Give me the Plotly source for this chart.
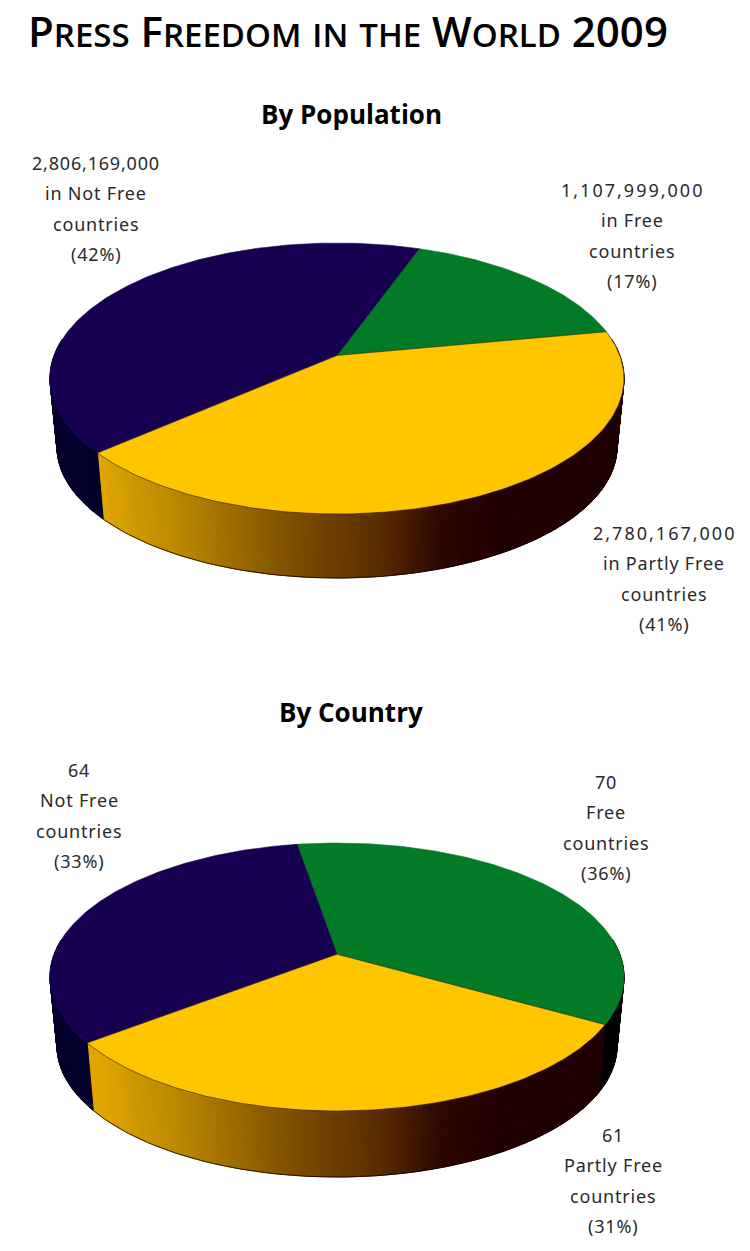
import numpy as np
import plotly.graph_objects as go

# ---- data ----
categories = ["Free", "Partly Free", "Not Free"]
population_values = [1107999000, 2780167000, 2806169000]
population_shares = [17, 41, 42]
country_values = [70, 61, 64]
country_shares = [36, 31, 33]
panel_titles = ["By Population", "By Country"]

# ---- style ----
TOP_COLORS = ["#037A25", "#FFC600", "#16004F"]
FONT_BODY = "Noto Sans"
TEXT_COLOR = "#2a2a2a"
W, H = 750, 1251


def hex_rgb(h):
    return np.array([int(h[i:i + 2], 16) for i in (1, 3, 5)], float)


def gradient(stops, x):
    xs = [s[0] for s in stops]
    cols = np.array([hex_rgb(s[1]) for s in stops])
    rgb = [np.interp(x, xs, cols[:, i]) for i in range(3)]
    return "rgb(%d,%d,%d)" % tuple(rgb)


WALL_STOPS = [
    [(500, "#000000"), (630, "#000000")],
    [(97, "#E0A600"), (180, "#B98600"), (297, "#7A4C00"), (380, "#5A2C00"),
     (440, "#2E0800"), (500, "#220000"), (625, "#1F0000")],
    [(40, "#05002E"), (120, "#00002A")],
]


def project(theta, k, cx, cy, rx, ry):
    """Perspective view of a unit circle: compass angle -> picture position."""
    x = np.sin(theta)
    y = np.cos(theta)
    d = 1 + k * y
    u = x * np.sqrt(1 - k * k) / d
    v = (y + k) / d
    return cx + rx * u, cy - ry * v


def add_pie(fig, values, start_deg, top, bottom):
    values = np.array(values, float)
    fr = values / values.sum()
    edges = np.radians(start_deg) + 2 * np.pi * np.concatenate([[0], np.cumsum(fr)])
    # side wall, drawn first as thin strips so the shading can follow x
    for i in range(3):
        a0, a1 = edges[i], edges[i + 1]
        n = max(2, int(np.degrees(a1 - a0) / 0.7))
        th = np.linspace(a0, a1, n + 1)
        for j in range(n):
            mid = (th[j] + th[j + 1]) / 2
            if np.cos(mid) > 0.12:
                continue
            tt = np.linspace(th[j], th[j + 1], 3)
            tx, ty = project(tt, *top)
            bx, by = project(tt, *bottom)
            xs = np.concatenate([tx, bx[::-1], tx[:1]])
            ys = np.concatenate([ty, by[::-1], ty[:1]])
            c = gradient(WALL_STOPS[i], float(np.mean(tx)))
            fig.add_trace(go.Scatter(x=xs, y=ys, mode="lines", fill="toself",
                                     fillcolor=c, line=dict(color=c, width=1),
                                     hoverinfo="skip", showlegend=False))
    # bottom rim hairline
    th = np.linspace(np.pi / 2 - 0.2, 3 * np.pi / 2 + 0.2, 200)
    bx, by = project(th, *bottom)
    fig.add_trace(go.Scatter(x=bx, y=by, mode="lines",
                             line=dict(color="#100000", width=0.8),
                             hoverinfo="skip", showlegend=False))
    # top slices: yellow is the one with the dark hairline round it
    ax, ay = top[1], top[2] - top[4] * top[0]
    for i in [0, 2, 1]:
        tt = np.linspace(edges[i], edges[i + 1], 160)
        rx_, ry_ = project(tt, *top)
        edge = "#2A1A00" if i == 1 else TOP_COLORS[i]
        fig.add_trace(go.Scatter(
            x=np.concatenate([[ax], rx_, [ax]]), y=np.concatenate([[ay], ry_, [ay]]),
            mode="lines", fill="toself", fillcolor=TOP_COLORS[i],
            line=dict(color=edge, width=0.6), name=categories[i],
            hoverinfo="name", showlegend=False))


fig = go.Figure()
add_pie(fig, population_values, 19.7,
        (0.17, 337, 378.5, 287, 135.5), (0.17, 337, 447, 280, 131))
add_pie(fig, country_values, -9.5,
        (0.17, 337, 977, 287, 134), (0.17, 337, 1046, 280, 131))


def label_block(cx, y0, lines, first_spacing=0.8):
    for i, line in enumerate(lines):
        sp = first_spacing if i == 0 else 0.8
        fig.add_annotation(x=cx, y=y0 + i * 30.4,
                           text=f'<span style="letter-spacing:{sp}px">{line}</span>',
                           showarrow=False, xref="x", yref="y",
                           xanchor="center", yanchor="middle",
                           font=dict(family=FONT_BODY, size=18, color=TEXT_COLOR))


label_block(96, 163, [f"{population_values[2]:,}", "in Not Free", "countries", f"({population_shares[2]}%)"])
label_block(632, 190, [f"{population_values[0]:,}", "in Free", "countries", f"({population_shares[0]}%)"], 2.0)
label_block(664, 533, [f"{population_values[1]:,}", "in Partly Free", "countries", f"({population_shares[1]}%)"], 2.0)
label_block(79, 770, [f"{country_values[2]}", "Not Free", "countries", f"({country_shares[2]}%)"])
label_block(606, 782, [f"{country_values[0]}", "Free", "countries", f"({country_shares[0]}%)"])
label_block(613, 1135, [f"{country_values[1]}", "Partly Free", "countries", f"({country_shares[1]}%)"])


def small_caps(text, small):
    out = ""
    for ch in text:
        if ch.islower():
            out += f'<span style="font-size:{small}px">{ch.upper()}</span>'
        else:
            out += ch
    return out


fig.add_annotation(x=26, y=30, text=small_caps("Press Freedom in the World 2009", 33),
                   showarrow=False, xanchor="left", yanchor="middle", xref="x", yref="y",
                   font=dict(family="Open Sans", size=42, color="#000000", weight=600))
for title, ty in zip(panel_titles, [114, 712]):
    fig.add_annotation(x=351, y=ty, text=f"<b>{title}</b>", showarrow=False,
                       xanchor="center", yanchor="middle", xref="x", yref="y",
                       font=dict(family="Open Sans", size=26, color="#000000"))

fig.update_layout(width=W, height=H, margin=dict(l=0, r=0, t=0, b=0),
                  paper_bgcolor="white", plot_bgcolor="white", showlegend=False,
                  xaxis=dict(range=[0, W], visible=False, fixedrange=True),
                  yaxis=dict(range=[H, 0], visible=False, fixedrange=True))
fig.write_html("out.html", config={"displayModeBar": False},
               post_script="document.body.style.margin='0';")
